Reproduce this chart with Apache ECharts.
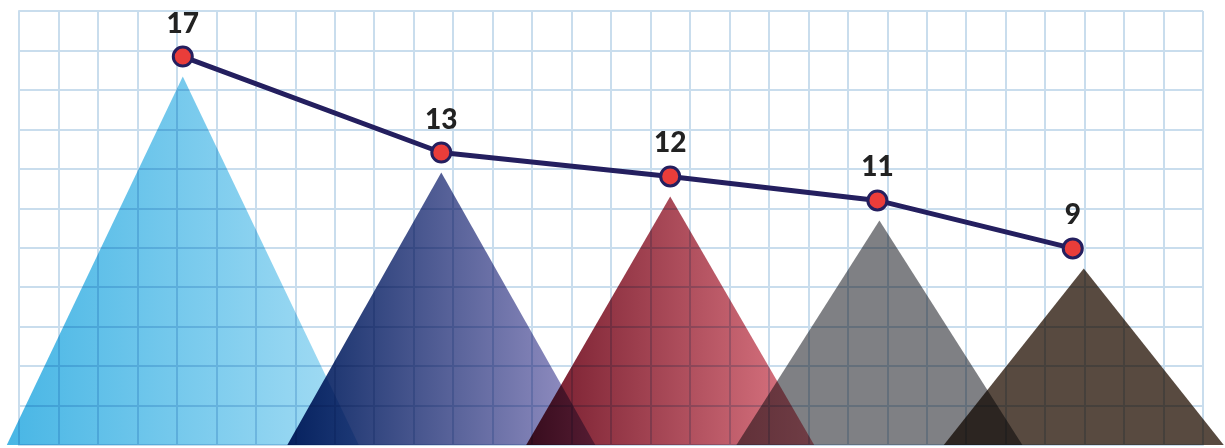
<!DOCTYPE html>
<html>
<head>
<meta charset="utf-8">
<script src="https://cdn.jsdelivr.net/npm/echarts@6/dist/echarts.min.js"></script>
<style>
  html, body { margin: 0; padding: 0; background: #fff; }
  #main { width: 1225px; height: 448px; }
</style>
</head>
<body>
<div id="main"></div>
<script>
// values
var values = [17, 13, 12, 11, 9];
// horizontal place of each point, in grid columns (30 columns across)
var xPos = [4.15, 10.7, 16.5, 21.75, 26.7];

// triangle look: half base width (px), apex shift (px), gradient colours
var triHalf = [176, 154, 144, 143, 140];
var triShift = [0, 0, 0, 2, 11];
var triColors = [
  ["#48b6e5", "#a6ddf4"],
  ["#0b2864", "#9b95c8"],
  ["#72192a", "#e07a86"],
  ["#7f8084", "#7f8084"],
  ["#584a40", "#584a40"],
];
var apexGap = 20;
var gridColor = "#c9dded";

var myChart = echarts.init(document.getElementById("main"));

function renderTriangle(params, api) {
  var i = params.dataIndex;
  var top = api.coord([api.value(0), api.value(1)]);
  var cs = params.coordSys;
  var baseY = cs.y + cs.height;
  var cx = top[0];
  var ax = cx + triShift[i];
  var ay = top[1] + apexGap;
  return {
    type: "polygon",
    shape: {
      points: [
        [cx - triHalf[i] + triShift[i], baseY],
        [ax, ay],
        [cx + triHalf[i] + triShift[i], baseY],
      ],
    },
    style: {
      fill: {
        type: "linear",
        x: 0, y: 0, x2: 1, y2: 0,
        colorStops: [
          { offset: 0, color: triColors[i][0] },
          { offset: 1, color: triColors[i][1] },
        ],
      },
    },
  };
}

var points = values.map(function (v, i) {
  return [xPos[i], v];
});

var option = {
  backgroundColor: "#fff",
  animation: false,
  grid: { left: 19, top: 11, width: 1184, height: 434 },
  xAxis: [
    {
      type: "value", min: 0, max: 30, interval: 1,
      axisLabel: { show: false }, axisTick: { show: false },
      axisLine: { show: true, lineStyle: { color: gridColor, width: 2 } },
      splitLine: { lineStyle: { color: gridColor, width: 2 } },
    },
    { type: "value", min: 0, max: 30, show: false },
  ],
  yAxis: [
    {
      type: "value", min: 0, max: 11, interval: 1,
      axisLabel: { show: false }, axisTick: { show: false },
      axisLine: { show: true, lineStyle: { color: gridColor, width: 2 } },
      splitLine: { lineStyle: { color: gridColor, width: 2 } },
    },
    { type: "value", min: 0.8, max: 18.9, show: false },
  ],
  series: [
    {
      type: "custom",
      xAxisIndex: 1,
      yAxisIndex: 1,
      renderItem: renderTriangle,
      blendMode: "multiply",
      data: points,
      z: 2,
    },
    {
      type: "line",
      xAxisIndex: 1,
      yAxisIndex: 1,
      data: points,
      z: 5,
      symbol: "circle",
      symbolSize: 19,
      lineStyle: { color: "#241f5f", width: 5 },
      itemStyle: { color: "#ea3d3a", borderColor: "#241f5f", borderWidth: 3 },
      label: {
        show: true,
        position: "top",
        distance: 8,
        formatter: function (p) { return p.value[1]; },
        color: "#222",
        fontSize: 28,
        fontWeight: 900,
        fontFamily: "Lato",
      },
    },
  ],
};

myChart.setOption(option);
</script>
</body>
</html>
